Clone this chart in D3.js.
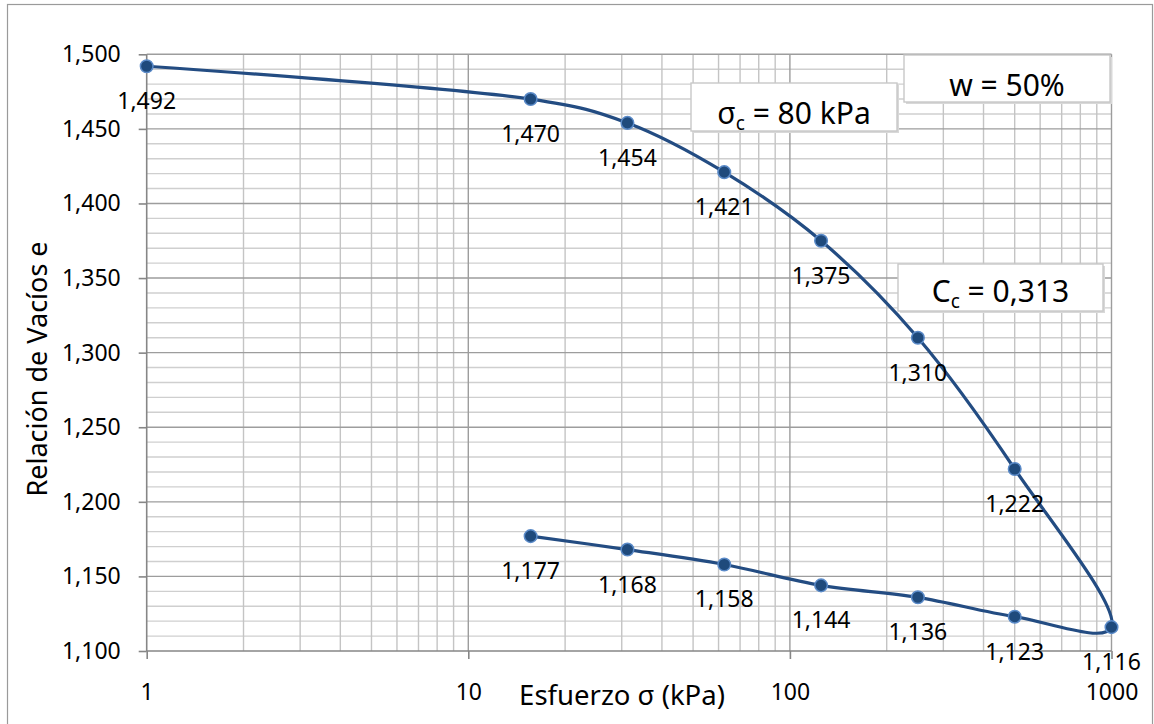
<!DOCTYPE html>
<html>
<head>
<meta charset="utf-8">
<script src="https://cdn.jsdelivr.net/npm/d3@7/dist/d3.min.js"></script>
<style>
  html, body { margin: 0; padding: 0; background: #fff; }
  svg { display: block; font-family: "Noto Sans", "Open Sans", sans-serif; }
</style>
</head>
<body>
<svg id="chart" width="1154" height="724"></svg>
<script>
// Oedometer test: void ratio vs. effective stress (loading then unloading)
const stress    = [1, 15.625, 31.25, 62.5, 125, 250, 500, 1000, 500, 250, 125, 62.5, 31.25, 15.625];
const voidRatio = [1.492, 1.470, 1.454, 1.421, 1.375, 1.310, 1.222, 1.116, 1.123, 1.136, 1.144, 1.158, 1.168, 1.177];
const xTickValues = [1, 10, 100, 1000];
const yTickValues = [1.10, 1.15, 1.20, 1.25, 1.30, 1.35, 1.40, 1.45, 1.50];

const svg = d3.select("#chart");
const plot = { left: 146.7, right: 1111.5, top: 54.3, bottom: 651 };

const locale = d3.formatLocale({ decimal: ",", thousands: ".", grouping: [3], currency: ["", ""] });
const fmt3 = locale.format(".3f");

const x = d3.scaleLog().domain([1, 1000]).range([plot.left, plot.right]);
const y = d3.scaleLinear().domain([1.10, 1.50]).range([plot.bottom, plot.top]);

// chart frame
svg.append("rect").attr("x", 7.5).attr("y", 4.5).attr("width", 1145).attr("height", 730)
  .attr("fill", "#fff").attr("stroke", "#9a9a9a").attr("stroke-width", 1.2);

// minor grid
const yMinor = d3.range(110, 151).map(v => v / 100).filter(v => Math.round(v * 100) % 5 !== 0);
const xMinor = [];
[1, 10, 100].forEach(d => { for (let k = 2; k <= 9; k++) xMinor.push(d * k); });

const grid = svg.append("g");
grid.selectAll(".ym").data(yMinor).join("line")
  .attr("x1", plot.left).attr("x2", plot.right)
  .attr("y1", d => y(d)).attr("y2", d => y(d))
  .attr("stroke", "#cfcfcf").attr("stroke-width", 1.4);
grid.selectAll(".xm").data(xMinor).join("line")
  .attr("y1", plot.top).attr("y2", plot.bottom)
  .attr("x1", d => x(d)).attr("x2", d => x(d))
  .attr("stroke", "#c4c4c4").attr("stroke-width", 1.4);

// major grid
grid.selectAll(".yM").data(yTickValues.slice(1)).join("line")
  .attr("x1", plot.left).attr("x2", plot.right)
  .attr("y1", d => y(d)).attr("y2", d => y(d))
  .attr("stroke", "#9d9d9d").attr("stroke-width", 1.4);
grid.selectAll(".xM").data(xTickValues.slice(1)).join("line")
  .attr("y1", plot.top).attr("y2", plot.bottom)
  .attr("x1", d => x(d)).attr("x2", d => x(d))
  .attr("stroke", "#9d9d9d").attr("stroke-width", 1.4);

// axes
const yAxis = d3.axisLeft(y).tickValues(yTickValues).tickFormat(fmt3).tickSize(8).tickPadding(18);
const gy = svg.append("g").attr("transform", `translate(${plot.left},0)`).call(yAxis);
const xAxis = d3.axisBottom(x).tickValues(xTickValues).tickFormat(d3.format("d")).tickSize(8).tickPadding(25);
const gx = svg.append("g").attr("transform", `translate(0,${plot.bottom})`).call(xAxis);
[gx, gy].forEach(g => {
  g.select(".domain").attr("stroke", "#868686").attr("stroke-width", 1.6);
  g.selectAll(".tick line").attr("stroke", "#868686").attr("stroke-width", 1.6);
  g.selectAll(".tick text").attr("font-family", "Noto Sans").attr("font-size", 23).attr("fill", "#000");
});
gy.select(".domain").attr("d", `M0,${plot.top}V${plot.bottom}`);
gx.select(".domain").attr("d", `M${plot.left},0H${plot.right}`);

// axis titles
svg.append("text").attr("x", 622).attr("y", 705).attr("text-anchor", "middle")
  .attr("font-size", 27.5).text("Esfuerzo σ (kPa)");
svg.append("text").attr("transform", "translate(47,369) rotate(-90)").attr("text-anchor", "middle")
  .attr("font-size", 27).text("Relación de Vacíos e");

// curve through all readings, loading then unloading
const pts = stress.map((s, i) => [s, voidRatio[i]]);
const line = d3.line().x(d => x(d[0])).y(d => y(d[1])).curve(d3.curveCatmullRom.alpha(0.35));
svg.append("path").datum(pts).attr("d", line)
  .attr("fill", "none").attr("stroke", "#234c82").attr("stroke-width", 3.2);

svg.selectAll(".pt").data(pts).join("circle")
  .attr("cx", d => x(d[0])).attr("cy", d => y(d[1])).attr("r", 6.3)
  .attr("fill", "#1f4a7c").attr("stroke", "#5a8ac8").attr("stroke-width", 1.5);

// data labels
svg.selectAll(".lbl").data(pts).join("text")
  .attr("x", d => x(d[0])).attr("y", d => y(d[1]) + 43)
  .attr("text-anchor", "middle").attr("font-size", 23).attr("fill", "#000")
  .text(d => fmt3(d[1]));

// annotation boxes
function box(x0, y0, w, h, build) {
  svg.append("rect").attr("x", x0 + 2).attr("y", y0 + 2).attr("width", w).attr("height", h)
    .attr("fill", "#d8d8d8");
  svg.append("rect").attr("x", x0).attr("y", y0).attr("width", w).attr("height", h)
    .attr("fill", "#fff").attr("stroke", "#c8c8c8").attr("stroke-width", 1.4);
  const t = svg.append("text").attr("x", x0 + w / 2).attr("font-size", 30).attr("text-anchor", "middle");
  build(t);
}
box(904, 55, 206, 47, t => t.attr("y", 96).text("w = 50%"));
box(691, 83, 206, 48, t => {
  t.attr("y", 124);
  t.append("tspan").text("σ");
  t.append("tspan").attr("font-size", 19).attr("dy", 6).text("c");
  t.append("tspan").attr("dy", -6).text(" = 80 kPa");
});
box(898, 264, 205, 47, t => {
  t.attr("y", 302);
  t.append("tspan").text("C");
  t.append("tspan").attr("font-size", 19).attr("dy", 6).text("c");
  t.append("tspan").attr("dy", -6).text(" = 0,313");
});
</script>
</body>
</html>
